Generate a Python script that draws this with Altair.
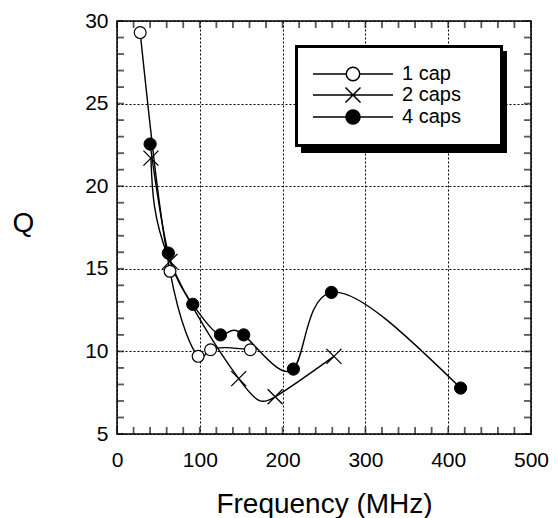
import altair as alt
import pandas as pd

series_names = ["1 cap", "2 caps", "4 caps"]

freq_1cap = [28, 64, 98, 113, 161]
q_1cap = [29.3, 14.85, 9.7, 10.1, 10.1]
freq_2caps = [41, 64, 147, 191, 262]
q_2caps = [21.7, 15.45, 8.35, 7.25, 9.7]
freq_4caps = [40, 62, 91.5, 125, 153, 213, 259, 415]
q_4caps = [22.55, 15.95, 12.85, 11.0, 11.0, 8.93, 13.57, 7.78]

x_major = [0, 100, 200, 300, 400, 500]
x_minor = list(range(0, 501, 20))
y_major = [5, 10, 15, 20, 25, 30]
y_minor = list(range(5, 31))

rows = []
for name, xs_, ys_ in zip(series_names,
                          [freq_1cap, freq_2caps, freq_4caps],
                          [q_1cap, q_2caps, q_4caps]):
    for i, (xv, yv) in enumerate(zip(xs_, ys_)):
        rows.append({"series": name, "freq": xv, "q": yv, "order": i})
df = pd.DataFrame(rows)

W, H = 414, 413
FONT = "Liberation Sans"
TICK = 7
xscale = alt.Scale(domain=[0, 500], nice=False, zero=False)
yscale = alt.Scale(domain=[5, 30], nice=False, zero=False)

base = alt.Chart(df)
one = alt.Chart(pd.DataFrame({"k": [0]}))

x_axis = alt.Axis(
    orient="bottom", values=x_major, ticks=False, domain=False,
    grid=True, gridColor="black", gridDash=[2, 2], gridWidth=1, gridOpacity=1,
    labelFont=FONT, labelFontSize=21, labelColor="black", labelPadding=15,
    labelFlush=False, labelOverlap=False,
    title="Frequency (MHz)", titleFont=FONT, titleFontSize=28,
    titleFontWeight="normal", titleColor="black", titleY=78,
    titleBaseline="alphabetic",
)
y_axis = alt.Axis(
    orient="left", values=y_major, ticks=False, domain=False,
    grid=True, gridColor="black", gridDash=[2, 2], gridWidth=1, gridOpacity=1,
    labelFont=FONT, labelFontSize=21, labelColor="black", labelPadding=9,
    labelFlush=False, labelOverlap=False,
    title="Q", titleFont=FONT, titleFontSize=28, titleFontWeight="normal",
    titleColor="black", titleAngle=0, titleX=-94, titleY=202,
    titleAlign="center", titleBaseline="middle",
)

axes_layer = base.mark_line(opacity=0).encode(
    x=alt.X("freq:Q", scale=xscale, axis=x_axis),
    y=alt.Y("q:Q", scale=yscale, axis=y_axis),
    detail="series:N",
)

# one tick layer per side, each with its own small table
tick_bottom = alt.Chart(pd.DataFrame({"v": x_minor, "side": "bottom"})).mark_tick(
    color="#111111", thickness=1.8, size=TICK
).encode(x=alt.X("v:Q", scale=xscale, axis=None), y=alt.value(H - TICK / 2))

tick_top = alt.Chart(pd.DataFrame({"v": x_minor, "side": "top"})).mark_tick(
    color="#111111", thickness=1.8, size=TICK
).encode(x=alt.X("v:Q", scale=xscale, axis=None), y=alt.value(TICK / 2))

tick_left = alt.Chart(pd.DataFrame({"v": y_minor, "side": "left"})).mark_tick(
    color="#111111", thickness=1.8, size=TICK
).encode(y=alt.Y("v:Q", scale=yscale, axis=None), x=alt.value(TICK / 2))

tick_right = alt.Chart(pd.DataFrame({"v": y_minor, "side": "right"})).mark_tick(
    color="#111111", thickness=1.8, size=TICK
).encode(y=alt.Y("v:Q", scale=yscale, axis=None), x=alt.value(W - TICK / 2))

shadow = one.mark_rect(color="black").encode(
    x=alt.value(184), x2=alt.value(390), y=alt.value(30), y2=alt.value(132)
)
box = one.mark_rect(fill="white", stroke="black", strokeWidth=3).encode(
    x=alt.value(179.5), x2=alt.value(384.5), y=alt.value(25.5), y2=alt.value(124.5)
)

lines = base.mark_line(interpolate="natural", color="black", strokeWidth=1.4).encode(
    x=alt.X("freq:Q", scale=xscale, axis=None),
    y=alt.Y("q:Q", scale=yscale, axis=None),
    detail="series:N",
    order="order:Q",
)

p1 = base.transform_filter(alt.datum.series == series_names[0]).mark_point(
    shape="circle", size=140, filled=True, fill="white", stroke="black",
    strokeWidth=1.2, opacity=1
).encode(
    x=alt.X("freq:Q", scale=xscale, axis=None),
    y=alt.Y("q:Q", scale=yscale, axis=None),
)

p2 = base.transform_filter(alt.datum.series == series_names[1]).mark_point(
    shape="M-1,-1L1,1M-1,1L1,-1", size=225, filled=False, stroke="black",
    strokeWidth=1.3, opacity=1
).encode(
    x=alt.X("freq:Q", scale=xscale, axis=None),
    y=alt.Y("q:Q", scale=yscale, axis=None),
)

p3 = base.transform_filter(alt.datum.series == series_names[2]).mark_point(
    shape="circle", size=150, filled=True, fill="black", stroke="black",
    strokeWidth=1, opacity=1
).encode(
    x=alt.X("freq:Q", scale=xscale, axis=None),
    y=alt.Y("q:Q", scale=yscale, axis=None),
)

legend_paths = [
    "M-4,0H-0.67M0.67,0A0.67,0.67,0,1,1,-0.67,0A0.67,0.67,0,1,1,0.67,0M0.67,0H4",
    "M-4,0H4M-0.75,-0.75L0.75,0.75M-0.75,0.75L0.75,-0.75",
    "M-4,0H-0.7M0.7,0A0.7,0.7,0,1,1,-0.7,0A0.7,0.7,0,1,1,0.7,0M0.7,0H4",
]
legend_fills = ["white", "black", "black"]

leg = alt.Legend(
    title=None, orient="none", legendX=185, legendY=42,
    symbolSize=400, symbolStrokeWidth=1.5,
    symbolOpacity=1, labelFont=FONT, labelFontSize=20, labelColor="black",
    labelOffset=38, symbolOffset=40, rowPadding=0, padding=0, labelLimit=300,
)

legend_layer = base.transform_filter("false").mark_point(
    filled=True, stroke="black", strokeWidth=1.5, opacity=1
).encode(
    x=alt.X("freq:Q", scale=xscale, axis=None),
    y=alt.Y("q:Q", scale=yscale, axis=None),
    shape=alt.Shape("series:N", scale=alt.Scale(domain=series_names, range=legend_paths), legend=leg),
    fill=alt.Fill("series:N", scale=alt.Scale(domain=series_names, range=legend_fills), legend=leg),
)

chart = alt.layer(
    axes_layer, shadow, box, lines, p1, p2, p3, legend_layer,
    tick_bottom, tick_top, tick_left, tick_right
).resolve_axis(
    x="independent", y="independent"
).properties(
    width=W, height=H,
    padding={"left": 117, "top": 21, "right": 27, "bottom": 84},
    autosize=alt.AutoSizeParams(type="none"),
    background="white",
).configure_view(
    stroke="black", strokeWidth=1.5
)

chart.save("out.html", embed_options={"renderer": "svg", "actions": False})
